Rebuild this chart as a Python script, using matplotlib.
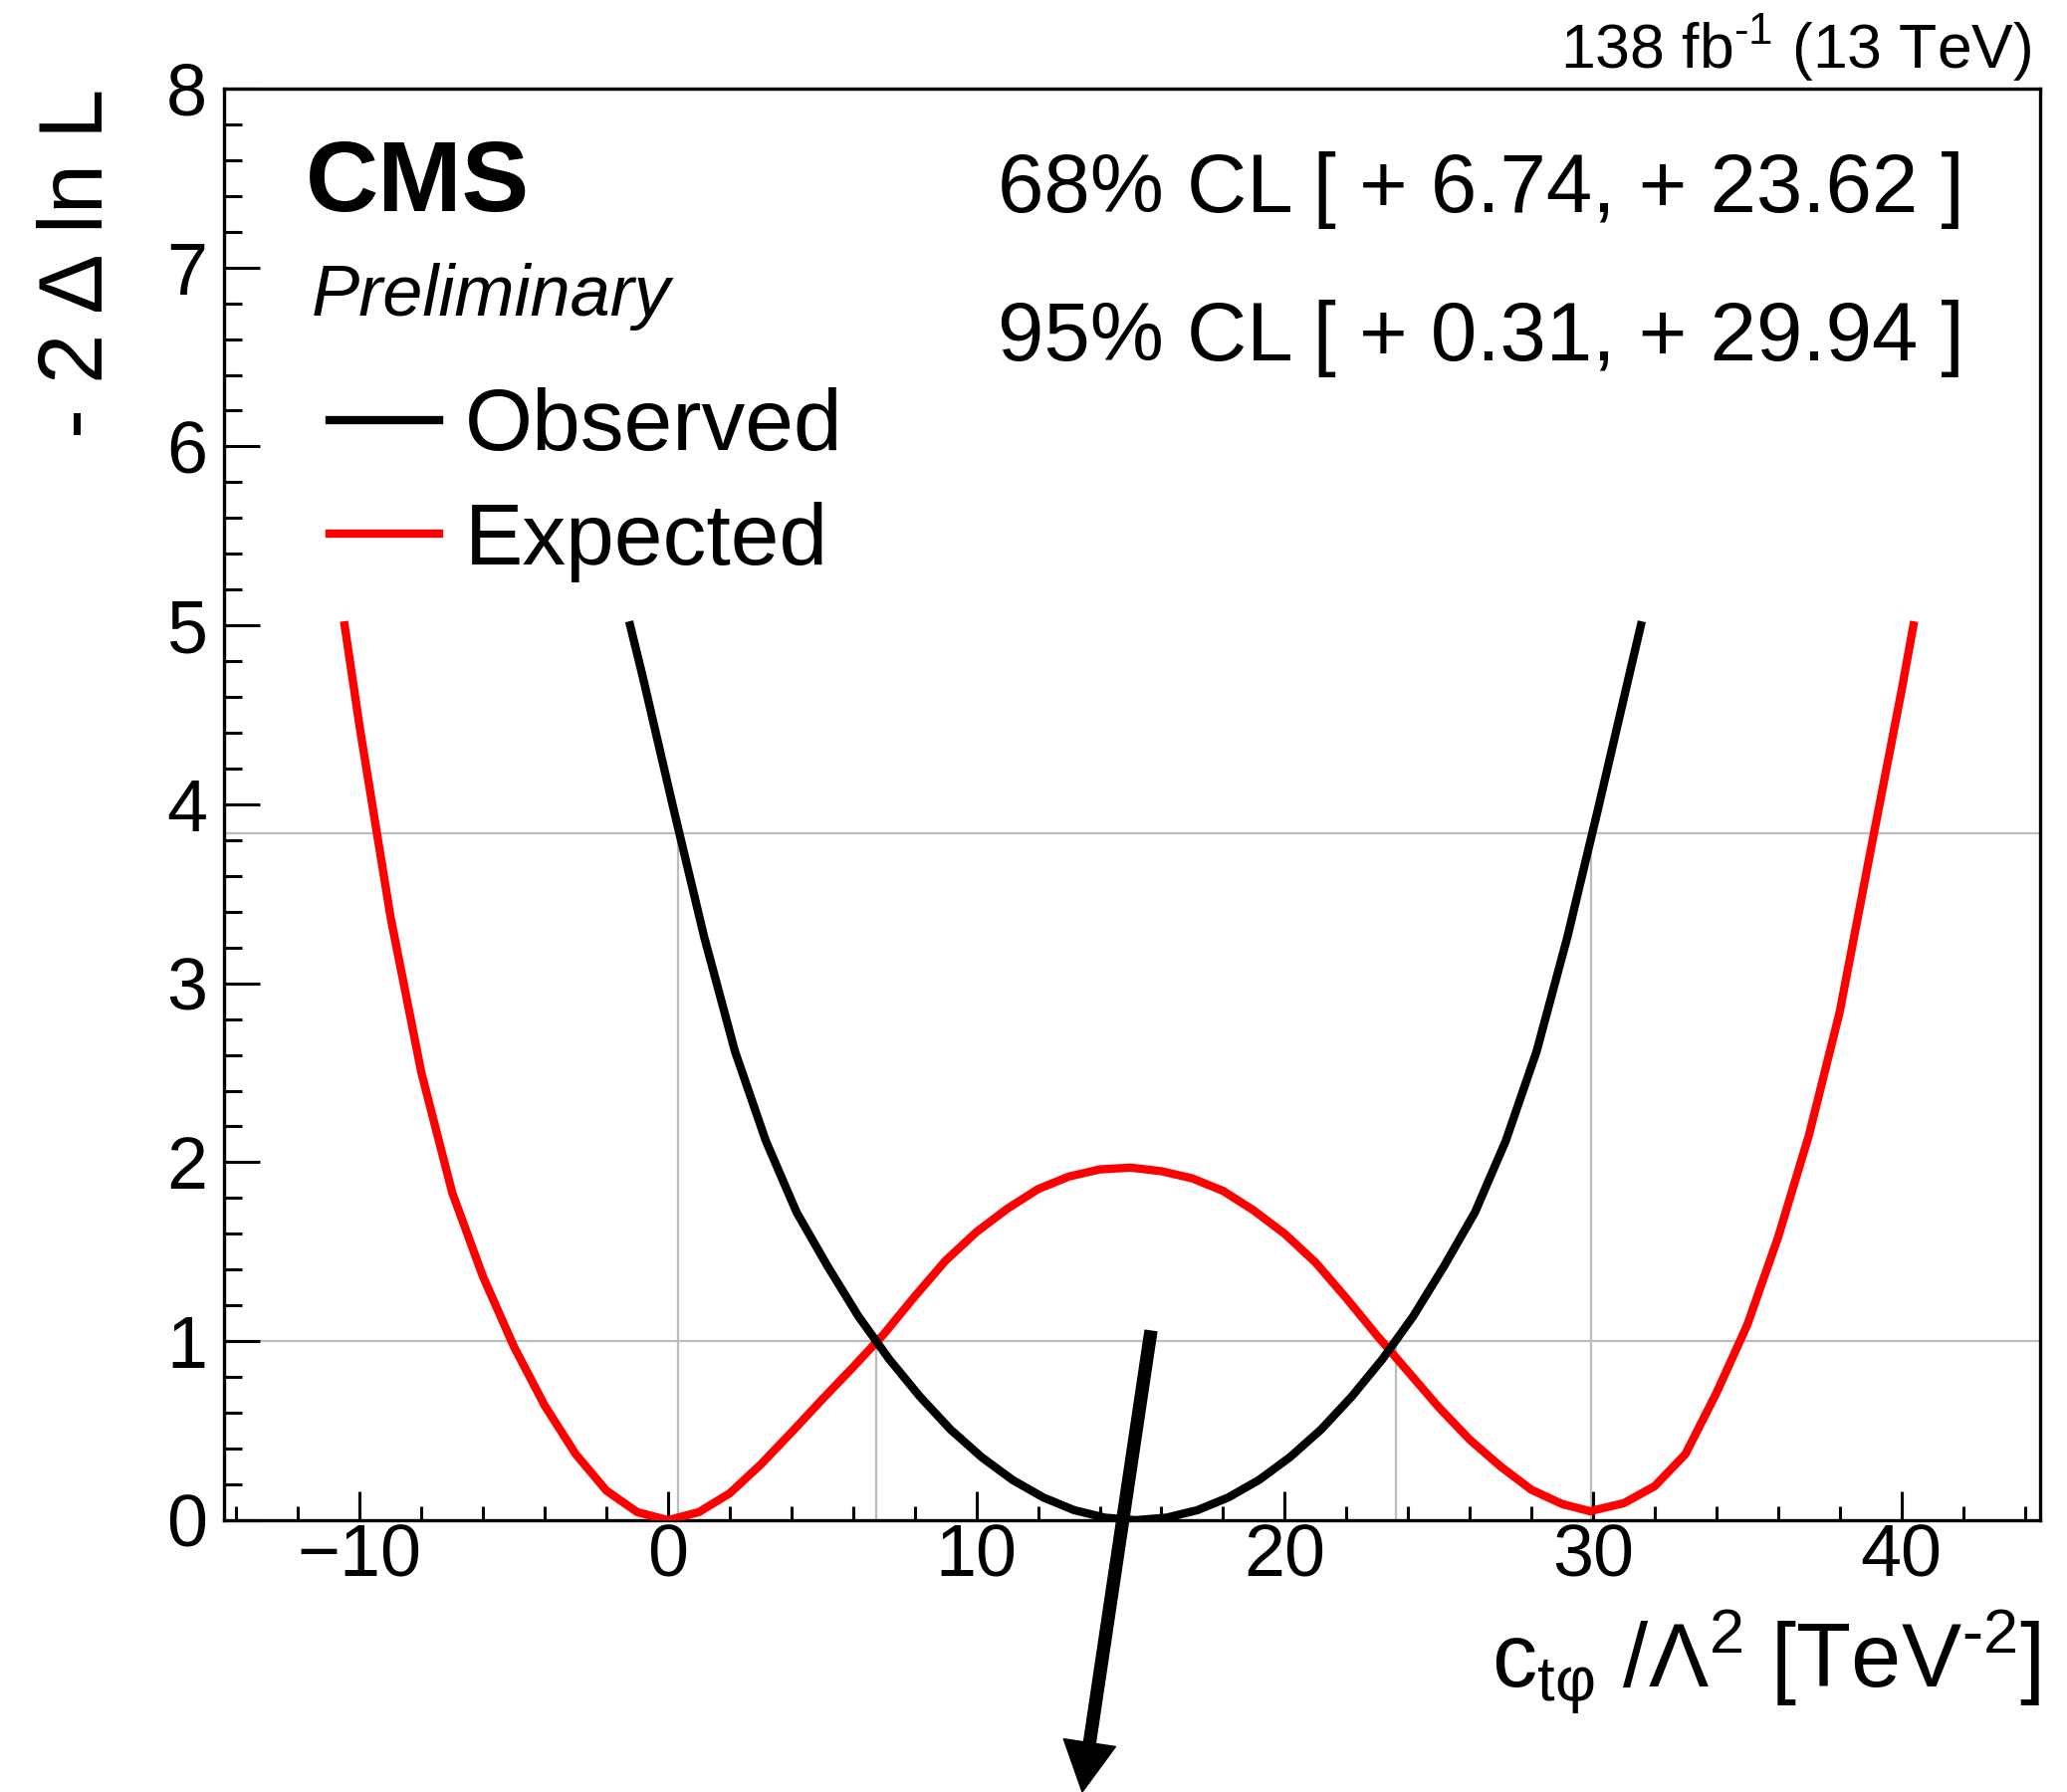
import matplotlib
matplotlib.use("Agg")
import matplotlib.pyplot as plt
from matplotlib.lines import Line2D
from matplotlib.ticker import MultipleLocator

plt.rcParams['font.family'] = ['Liberation Sans', 'DejaVu Sans']
plt.rcParams['mathtext.fontset'] = 'custom'
plt.rcParams['mathtext.rm'] = 'Liberation Sans'
plt.rcParams['mathtext.it'] = 'Liberation Sans:italic'
plt.rcParams['mathtext.default'] = 'regular'

# observed scan
obs_x = [-1.23, -0.83, 0.17, 1.17, 2.17, 3.17, 4.17, 5.17, 6.17, 7.17, 8.17, 9.17, 10.17,
         11.17, 12.17, 13.17, 14.17, 15.17, 16.17, 17.17, 18.17, 19.17, 20.17, 21.17,
         22.17, 23.17, 24.17, 25.17, 26.17, 27.17, 28.17, 29.17, 30.17, 31.17, 31.55]
obs_y = [5.0, 4.72, 3.98, 3.26, 2.62, 2.12, 1.72, 1.42, 1.14, 0.90, 0.69, 0.505, 0.352,
         0.225, 0.127, 0.056, 0.014, 0.0, 0.014, 0.056, 0.127, 0.225, 0.352, 0.505,
         0.69, 0.90, 1.14, 1.42, 1.72, 2.12, 2.62, 3.26, 3.98, 4.72, 5.0]

# expected scan
exp_x = [-10.49, -10, -9, -8, -7, -6, -5, -4, -3, -2, -1, 0, 1, 2, 3, 4, 5, 6, 7, 8, 9,
         10, 11, 12, 13, 14, 15, 16, 17, 18, 19, 20, 21, 22, 23, 24, 25, 26, 27, 28, 29,
         29.9, 31, 32, 33, 34, 35, 36, 37, 38, 39, 40, 40.39]
exp_y = [5.0, 4.43, 3.37, 2.50, 1.83, 1.36, 0.97, 0.64, 0.37, 0.165, 0.045, 0.0, 0.045,
         0.15, 0.31, 0.49, 0.675, 0.855, 1.04, 1.25, 1.45, 1.61, 1.74, 1.85, 1.92, 1.96,
         1.97, 1.95, 1.91, 1.84, 1.73, 1.60, 1.44, 1.24, 1.03, 0.83, 0.63, 0.45, 0.30,
         0.17, 0.09, 0.05, 0.095, 0.19, 0.37, 0.71, 1.09, 1.58, 2.15, 2.84, 3.74, 4.63, 5.0]

cl_levels = [1.0, 3.84]
cl68 = [6.74, 23.62]
cl95 = [0.31, 29.94]

fig = plt.figure(figsize=(20.76, 18), dpi=100)
ax = fig.add_axes([0.1084, 0.1517, 0.8786, 0.7989])

grey = '#bcbcbc'
for lev in cl_levels:
    ax.axhline(lev, color=grey, lw=1.6, zorder=1)
ax.vlines(cl68, 0, cl_levels[0], color=grey, lw=1.6, zorder=1)
ax.vlines(cl95, 0, cl_levels[1], color=grey, lw=1.6, zorder=1)

ax.plot(exp_x, exp_y, '-', color='red', lw=6, zorder=3, solid_joinstyle='round')
ax.plot(obs_x, obs_y, '-', color='black', lw=6, zorder=4, solid_joinstyle='round')

ax.set_xlim(-14.4, 44.5)
ax.set_ylim(0, 8)

ax.xaxis.set_major_locator(MultipleLocator(10))
ax.xaxis.set_minor_locator(MultipleLocator(2))
ax.yaxis.set_major_locator(MultipleLocator(1))
ax.yaxis.set_minor_locator(MultipleLocator(0.2))
ax.tick_params(axis='x', which='major', direction='in', length=21, width=2.2, labelsize=53, pad=2)
ax.tick_params(axis='x', which='minor', direction='in', length=10, width=2.2)
ax.tick_params(axis='y', which='major', direction='in', length=26, width=2.2, labelsize=53, pad=12)
ax.tick_params(axis='y', which='minor', direction='in', length=13, width=2.2)
for s in ax.spines.values():
    s.set_linewidth(2.4)

ax.set_ylabel('- 2 Δ ln L', fontsize=65, loc='top', va='baseline')
ax.yaxis.set_label_coords(-0.067, 1.0)
ax.set_xlabel('c$_{tφ}$ /Λ$^{2}$ [TeV$^{‐2}$]', fontsize=65, loc='right', va='baseline')
ax.xaxis.set_label_coords(1.0, -0.1168)

handles = [Line2D([], [], color='black', lw=6), Line2D([], [], color='red', lw=6)]
ax.legend(handles, ['Observed', 'Expected'], loc='upper left', bbox_to_anchor=(0.058, 0.791),
          frameon=False, fontsize=63, handlelength=1.26, handletextpad=0.3,
          labelspacing=0.38, borderaxespad=0, borderpad=0)

fig.text(0.1479, 1 - 212 / 1800, 'CMS', fontsize=73, fontweight='bold', va='baseline')
fig.text(0.1508, 1 - 317 / 1800, 'Preliminary', fontsize=52, style='italic', va='baseline')
fig.text(0.4827, 1 - 213 / 1800, '68%% CL [ + %.2f, + %.2f ]' % (cl68[0], cl68[1]),
         fontsize=60, va='baseline')
fig.text(0.4827, 1 - 362 / 1800, '95%% CL [ + %.2f, + %.2f ]' % (cl95[0], cl95[1]),
         fontsize=60, va='baseline')
fig.text(0.983, 1 - 68 / 1800, '138 fb$^{‐1}$ (13 TeV)', fontsize=45, ha='right', va='baseline')

# the stray arrow pointing out of the frame
ax.annotate('', xy=(0.5236, 0.0), xycoords='figure fraction',
            xytext=(0.5568, 0.2572), textcoords='figure fraction',
            arrowprops=dict(width=8.6, headwidth=38, headlength=36, shrink=0,
                            facecolor='black', edgecolor='black'),
            annotation_clip=False, zorder=6)

fig.savefig('out.png', dpi=100)
